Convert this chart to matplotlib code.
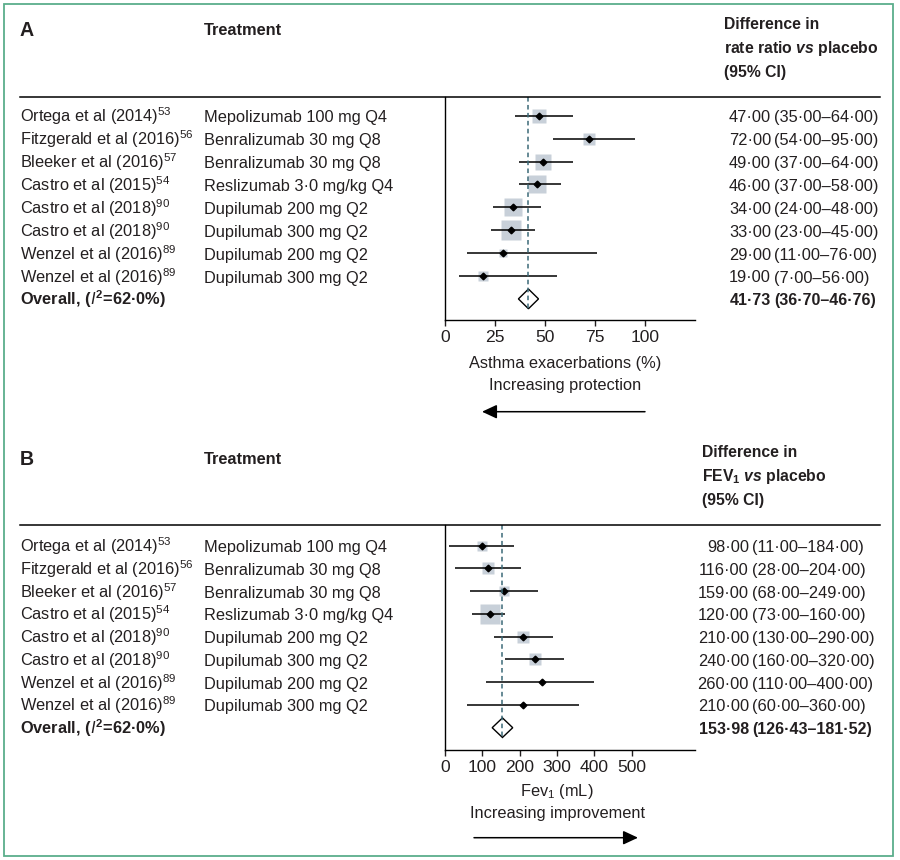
import matplotlib
matplotlib.use("Agg")
import matplotlib.pyplot as plt
from matplotlib import font_manager as fm
from matplotlib.transforms import blended_transform_factory, offset_copy
from matplotlib.patches import Polygon, Rectangle, FancyArrowPatch
from matplotlib.lines import Line2D
import numpy as np

# ---------------- data ----------------
studies = ["Ortega et al (2014)", "Fitzgerald et al (2016)", "Bleeker et al (2016)",
           "Castro et al (2015)", "Castro et al (2018)", "Castro et al (2018)",
           "Wenzel et al (2016)", "Wenzel et al (2016)"]
refs = ["53", "56", "57", "54", "90", "90", "89", "89"]
treatments = ["Mepolizumab 100 mg Q4", "Benralizumab 30 mg Q8", "Benralizumab 30 mg Q8",
              "Reslizumab 3·0 mg/kg Q4", "Dupilumab 200 mg Q2", "Dupilumab 300 mg Q2",
              "Dupilumab 200 mg Q2", "Dupilumab 300 mg Q2"]

a_est = [47, 72, 49, 46, 34, 33, 29, 19]
a_lo = [35, 54, 37, 37, 24, 23, 11, 7]
a_hi = [64, 95, 64, 58, 48, 45, 76, 56]
a_weight = [15, 11.7, 16.7, 18.5, 18, 20, 7.7, 10]
a_overall = 41.73
a_overall_lo = 36.70
a_overall_hi = 46.76
a_ticks = [0, 25, 50, 75, 100]

b_est = [98, 116, 159, 120, 210, 240, 260, 210]
b_lo = [11, 28, 68, 73, 130, 160, 110, 60]
b_hi = [184, 204, 249, 160, 290, 320, 400, 360]
b_weight = [10.7, 11.3, 11, 21, 12.7, 12.3, 4, 4]
b_overall = 153.98
b_overall_lo = 126.43
b_overall_hi = 181.52
b_ticks = [0, 100, 200, 300, 400, 500]

i2_text = "62·0%"


def fmt(v):
    return f"{v:.2f}".replace(".", "·")


# ---------------- figure / fonts ----------------
W, H = 900, 860
fig = plt.figure(figsize=(9, 8.6), dpi=100)

names = {f.name for f in fm.fontManager.ttflist}
family = None
for cand in ["Liberation Sans Narrow", "Liberation Sans", "DejaVu Sans"]:
    if cand in names:
        family = cand
        break

renderer = fig.canvas.get_renderer()
w10, _, _ = renderer.get_text_width_height_descent(
    "Ortega et al (2014)", fm.FontProperties(family=family, size=10), ismath=False)
FS = 10 * 138.0 / w10

plt.rcParams["font.family"] = [family, "DejaVu Sans"]
plt.rcParams["mathtext.fontset"] = "custom"
plt.rcParams["mathtext.rm"] = family
plt.rcParams["mathtext.it"] = family + ":italic"
plt.rcParams["mathtext.bf"] = family + ":bold"
plt.rcParams["mathtext.bfit"] = family + ":italic:bold"
plt.rcParams["mathtext.default"] = "regular"

TXT = "#231f20"
GREY = "#c8d0d9"
DASH = "#3c6a78"
GREEN = "#5aae8b"
LW = 1.0


def fx(px):
    return px / W


def fy(py):
    return 1 - py / H


def ftext(px, py, s, **kw):
    kw.setdefault("fontsize", FS)
    kw.setdefault("color", TXT)
    kw.setdefault("va", "baseline")
    fig.text(fx(px), fy(py), s, **kw)


def panel(letter, header_lines, top_px, bottom_px, row0_px, drow_px, xmax,
          est, lo, hi, wts, ov, ovlo, ovhi, ticks, num_x, head_x,
          xlabel, xlabel_cx, sub_label, label_y, sub_y, arrow_from, arrow_to, arrow_y):
    ax = fig.add_axes([fx(445), fy(bottom_px), (695 - 445) / W, (bottom_px - top_px) / H])
    ymax = (bottom_px - row0_px) / drow_px
    ymin = (top_px - row0_px) / drow_px
    ax.set_ylim(ymax, ymin)
    ax.set_xlim(0, xmax)
    ax.patch.set_visible(False)
    n = len(est)
    y = np.arange(n)

    for yi, e, w in zip(y, est, wts):
        ax.plot([e], [yi], marker="s", ms=w / 1.389, color=GREY, mec="none", zorder=2)
    ax.hlines(y, lo, hi, color="black", lw=LW * 1.1, zorder=3)
    ax.plot(est, y, ls="none", marker="D", ms=3.4, color="black", zorder=4)
    h = 0.43
    ax.add_patch(Polygon([[ovlo, n], [ov, n - h], [ovhi, n], [ov, n + h]], closed=True,
                         fc="white", ec="black", lw=LW, zorder=3))
    ax.vlines(ov, ymin, n + h, colors=DASH, lw=LW * 1.1, linestyles=(0, (3, 2.2)), zorder=5)

    for sp in ["top", "right"]:
        ax.spines[sp].set_visible(False)
    for sp in ["left", "bottom"]:
        ax.spines[sp].set_linewidth(LW)
        ax.spines[sp].set_color("black")
    ax.set_yticks([])
    ax.set_xticks(ticks)
    ax.set_xticklabels([str(t) for t in ticks])
    ax.tick_params(axis="x", length=4.3, width=LW, pad=3, labelsize=FS * 1.07, colors=TXT)

    # row texts
    tr = blended_transform_factory(fig.transFigure, ax.transData)
    trt = offset_copy(tr, fig=fig, x=0, y=-6.5, units="dots")
    for i in range(n):
        fig.text(fx(20), i, studies[i] + "$^{" + refs[i] + "}$", transform=trt,
                 fontsize=FS, color=TXT, va="baseline", ha="left")
        fig.text(fx(204), i, treatments[i], transform=trt,
                 fontsize=FS, color=TXT, va="baseline", ha="left")
        fig.text(fx(num_x), i, fmt(est[i]), transform=trt,
                 fontsize=FS, color=TXT, va="baseline", ha="right")
        fig.text(fx(num_x + 3), i, "(" + fmt(lo[i]) + "–" + fmt(hi[i]) + ")", transform=trt,
                 fontsize=FS, color=TXT, va="baseline", ha="left")
    fig.text(fx(20), n, "Overall, ($\\mathit{I}^{2}$=" + i2_text + ")", transform=trt,
             fontsize=FS, color=TXT, va="baseline", ha="left", fontweight="bold")
    fig.text(fx(num_x), n, fmt(ov), transform=trt, fontsize=FS * 0.98, color=TXT,
             va="baseline", ha="right", fontweight="bold")
    fig.text(fx(num_x + 3), n, "(" + fmt(ovlo) + "–" + fmt(ovhi) + ")", transform=trt,
             fontsize=FS * 0.98, color=TXT, va="baseline", ha="left", fontweight="bold")

    # headers
    ftext(20, top_px - 60, letter, fontweight="bold", fontsize=FS * 1.2)
    ftext(204, top_px - 61.5, "Treatment", fontweight="bold")
    for k, line in enumerate(header_lines):
        ftext(head_x, top_px - 67.5 + 24 * k, line, fontweight="bold", fontsize=FS * 0.96)

    fig.add_artist(Line2D([fx(20), fx(880)], [fy(top_px), fy(top_px)],
                          transform=fig.transFigure, color="black", lw=LW * 1.1))

    ftext(xlabel_cx, label_y, xlabel, ha="center")
    ftext(xlabel_cx, sub_y, sub_label, ha="center")
    fig.add_artist(FancyArrowPatch(posA=(fx(arrow_from), fy(arrow_y)),
                                   posB=(fx(arrow_to), fy(arrow_y)),
                                   transform=fig.transFigure,
                                   arrowstyle="-|>,head_length=0.9,head_width=0.42",
                                   mutation_scale=10, lw=LW * 1.1, color="black",
                                   shrinkA=0, shrinkB=0))
    return ax


panel("A", ["Difference in", "rate ratio $\\mathbfit{vs}$ placebo", "(95% CI)"],
      96.5, 320, 115.7, 22.9, 125,
      a_est, a_lo, a_hi, a_weight, a_overall, a_overall_lo, a_overall_hi, a_ticks,
      771, 724,
      "Asthma exacerbations (%)", 565, "Increasing protection", 368, 390,
      645, 482, 411.7)

panel("B", ["Difference in", "FEV$_{1}$ $\\mathbfit{vs}$ placebo", "(95% CI)"],
      525, 750, 545.7, 22.75, 670,
      b_est, b_lo, b_hi, b_weight, b_overall, b_overall_lo, b_overall_hi, b_ticks,
      749, 702,
      "Fev$_{1}$ (mL)", 557, "Increasing improvement", 796, 818,
      474, 638, 837.7)

fig.add_artist(Rectangle((fx(4), fy(856)), (893 - 4) / W, (856 - 4) / H,
                         transform=fig.transFigure, fill=False, ec=GREEN, lw=1.3))

fig.savefig("out.png", dpi=100)
